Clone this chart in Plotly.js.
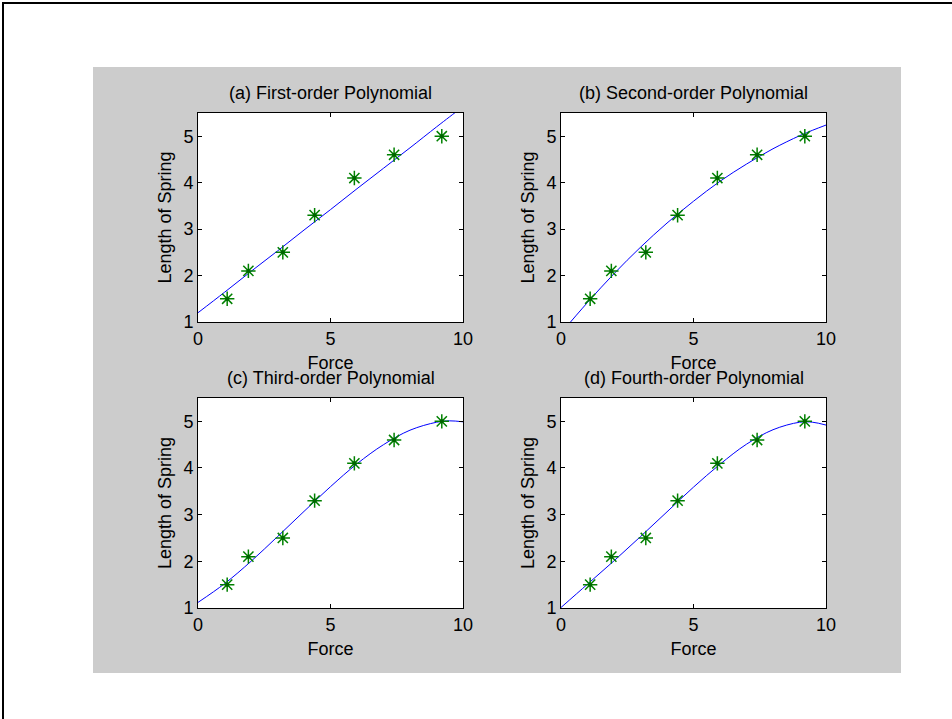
<!DOCTYPE html>
<html>
<head>
<meta charset="utf-8">
<script src="https://cdn.plot.ly/plotly-3.0.1.min.js"></script>
<style>
  html, body { margin: 0; padding: 0; background: #ffffff; }
  body { width: 952px; height: 719px; position: relative; overflow: hidden; }
  #frame { position: absolute; left: 2px; top: 2px; width: 950px; height: 717px;
           border-left: 2px solid #000; border-top: 2px solid #000; }
  #chart { position: absolute; left: 93px; top: 67px; width: 808px; height: 606px; }
</style>
</head>
<body>
<div id="frame"></div>
<div id="chart"></div>
<script>
// Measured data points (Force vs Length of Spring)
const force = [1.1, 1.9, 3.2, 4.4, 5.9, 7.4, 9.2];
const springLength = [1.5, 2.1, 2.5, 3.3, 4.1, 4.6, 5.0];

// Fitted curves, values
const fitForce = [0, 1, 2, 3, 4, 5, 6, 7, 8, 9, 9.5, 10];
const fitFirst  = [1.20, 1.64, 2.09, 2.53, 2.98, 3.42, 3.87, 4.31, 4.75, 5.20, 5.42, 5.64];
const fitSecond = [0.76, 1.42, 2.04, 2.61, 3.13, 3.60, 4.03, 4.40, 4.73, 5.01, 5.13, 5.24];
const fitThird  = [1.12, 1.52, 2.00, 2.53, 3.07, 3.60, 4.09, 4.50, 4.81, 4.98, 5.01, 4.99];
const fitFourth = [1.01, 1.51, 2.01, 2.53, 3.06, 3.59, 4.08, 4.51, 4.82, 4.98, 4.98, 4.92];

const panelTitles = ['(a) First-order Polynomial', '(b) Second-order Polynomial',
                     '(c) Third-order Polynomial', '(d) Fourth-order Polynomial'];
const xTickVals = [0, 5, 10];
const yTickVals = [1, 2, 3, 4, 5];
const xLabel = 'Force';
const yLabel = 'Length of Spring';

const fits = [fitFirst, fitSecond, fitThird, fitFourth];

const FONT = 'Liberation Sans, Arial, Helvetica, sans-serif';
const FS = 18;

const xDomains = [[0.1300, 0.4579], [0.5792, 0.9072], [0.1300, 0.4579], [0.5792, 0.9072]];
const yDomains = [[0.5792, 0.9241], [0.5792, 0.9241], [0.1073, 0.4538], [0.1073, 0.4538]];

const traces = [];
const layout = {
  width: 808, height: 606,
  margin: {l: 0, r: 0, t: 0, b: 0, pad: 0},
  paper_bgcolor: '#cccccc',
  plot_bgcolor: '#ffffff',
  showlegend: false,
  font: {family: FONT, size: FS, color: '#000000'},
  annotations: []
};

for (let i = 0; i < 4; i++) {
  const s = i === 0 ? '' : String(i + 1);
  traces.push({
    x: fitForce, y: fits[i], xaxis: 'x' + s, yaxis: 'y' + s,
    type: 'scatter', mode: 'lines',
    line: {color: '#0000ff', width: 1, shape: 'spline', smoothing: 1},
    hoverinfo: 'skip'
  });
  traces.push({
    x: force, y: springLength, xaxis: 'x' + s, yaxis: 'y' + s,
    type: 'scatter', mode: 'markers',
    marker: {symbol: 'asterisk-open', size: 12, color: '#008000',
             line: {color: '#008000', width: 1.5}},
    cliponaxis: false
  });
  traces.push({
    x: force, y: springLength, xaxis: 'x' + s, yaxis: 'y' + s,
    type: 'scatter', mode: 'markers',
    marker: {symbol: 'circle', size: 4, color: '#006400', line: {width: 0}},
    cliponaxis: false
  });
  const axCommon = {
    showgrid: false, zeroline: false,
    showline: true, linecolor: '#000000', linewidth: 1, mirror: 'ticks',
    ticks: 'inside', ticklen: 4, tickwidth: 1, tickcolor: '#000000',
    tickfont: {family: FONT, size: FS, color: '#000000'},
    fixedrange: true, automargin: false
  };
  layout['xaxis' + s] = Object.assign({}, axCommon, {
    domain: xDomains[i], range: [0, 10], tickmode: 'array', tickvals: xTickVals,
    anchor: 'y' + s,
    title: {text: xLabel, font: {family: FONT, size: FS, color: '#000000'}, standoff: 8}
  });
  layout['yaxis' + s] = Object.assign({}, axCommon, {
    domain: yDomains[i], range: [1, 5.5], tickmode: 'array', tickvals: yTickVals,
    anchor: 'x' + s,
    title: {text: yLabel, font: {family: FONT, size: FS, color: '#000000'}, standoff: 7}
  });
  layout.annotations.push({
    text: panelTitles[i], xref: 'paper', yref: 'paper',
    x: (xDomains[i][0] + xDomains[i][1]) / 2, y: yDomains[i][1],
    xanchor: 'center', yanchor: 'bottom', yshift: 8, showarrow: false,
    font: {family: FONT, size: FS, color: '#000000'}
  });
}

Plotly.newPlot('chart', traces, layout, {displayModeBar: false, staticPlot: true});
</script>
</body>
</html>
